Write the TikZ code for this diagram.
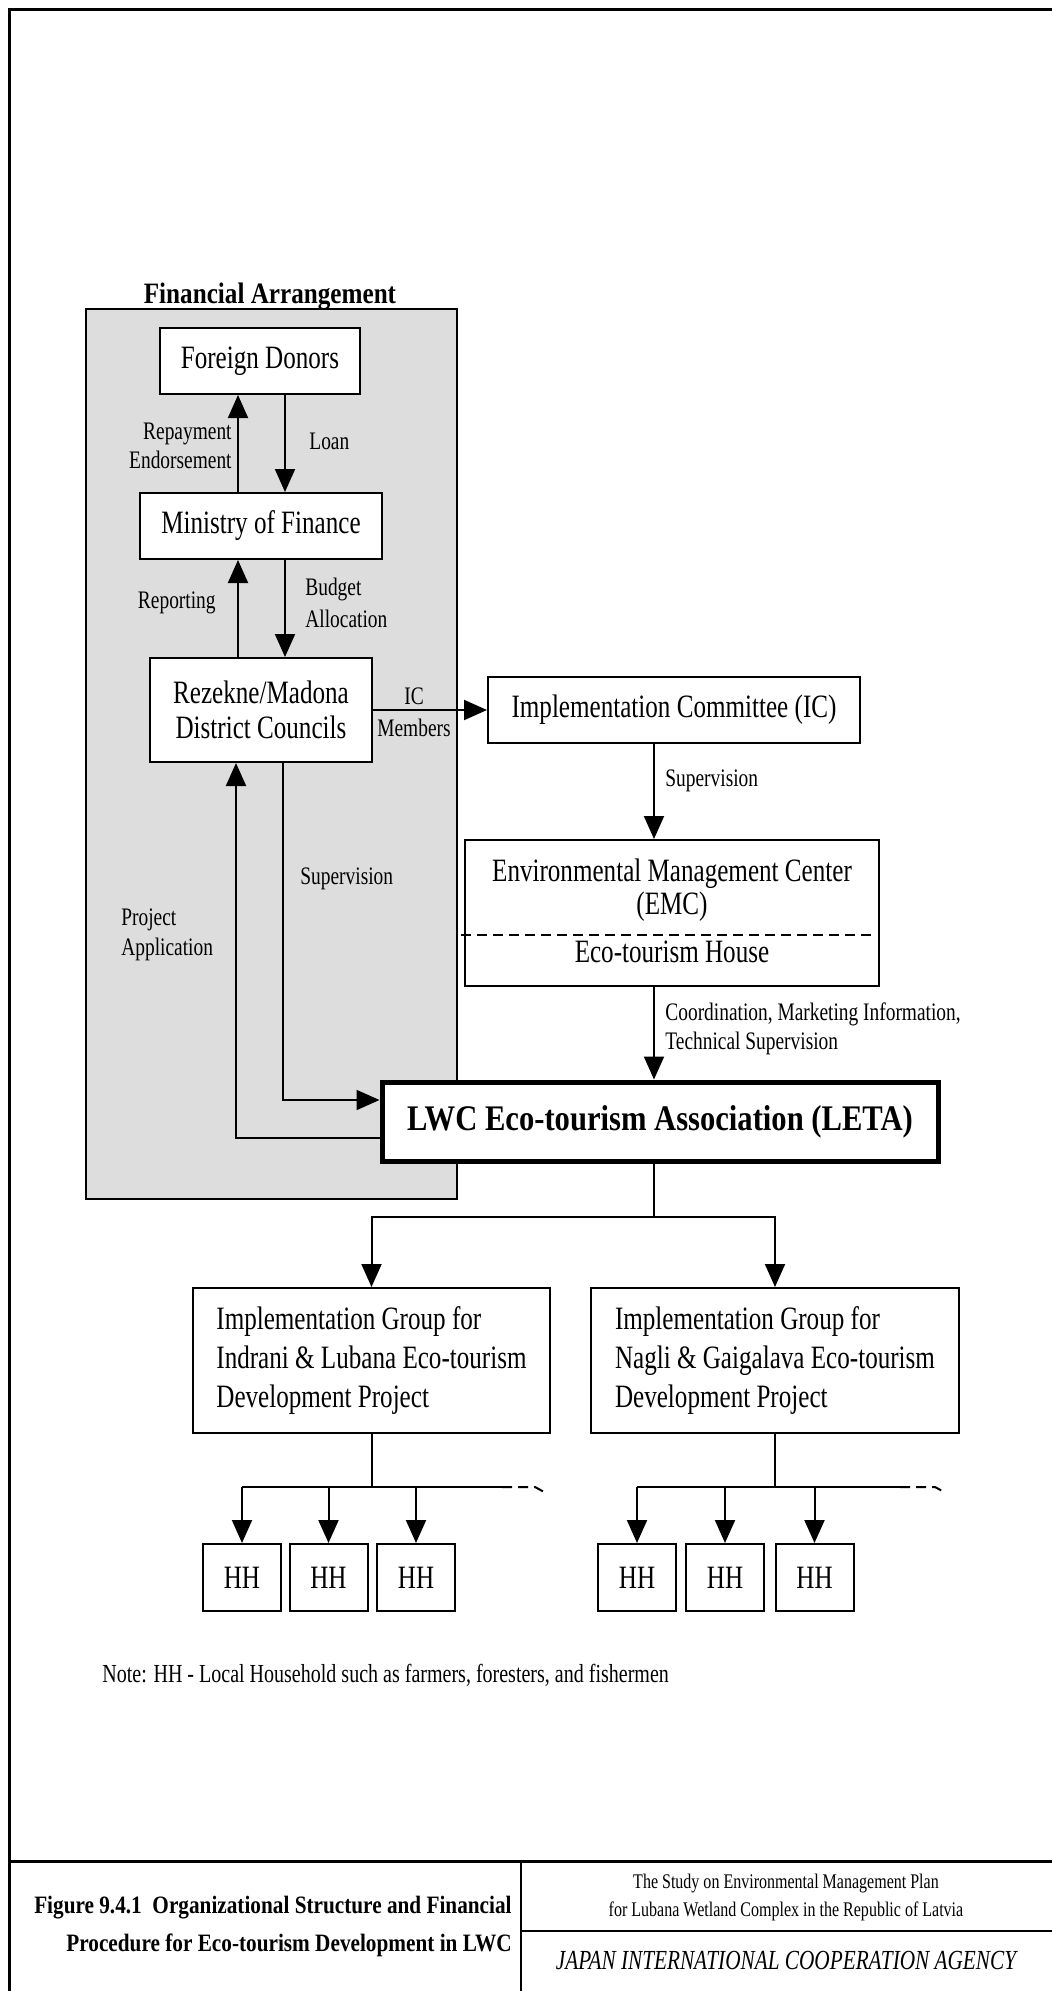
\documentclass[tikz,border=0pt]{standalone}
\usepackage{fontspec}
\setmainfont{Liberation Serif}[FakeStretch=0.77]
\newfontfamily\bfcond{Liberation Serif}[FakeStretch=0.85]
\usetikzlibrary{arrows.meta}
\definecolor{bgray}{RGB}{221,221,221}
\newcommand\fmain{\fontsize{16.3}{19}\selectfont}
\newcommand\flab{\fontsize{12.6}{14.5}\selectfont}
\newcommand\fbhead{\bfcond\bfseries\fontsize{14.8}{17}\selectfont}
\newcommand\fleta{\bfcond\bfseries\fontsize{18}{21}\selectfont}
\newcommand\ftitle{\bfcond\bfseries\fontsize{12.5}{15}\selectfont}
\tikzset{
  box/.style={draw, line width=1pt, fill=white, inner sep=0pt, font=\fmain, align=center},
  lab/.style={font=\flab, inner sep=0pt},
  arr/.style={line width=1pt, -{Triangle[width=10pt,length=11.5pt]}},
  ln/.style={line width=1pt},
}
\begin{document}
\begin{tikzpicture}[x=0.5pt,y=-0.5pt]
\useasboundingbox (0,0) rectangle (1052,1991);
% outer frame and title block
\draw[line width=1.5pt] (9,1991) -- (9,10) -- (1052,10);
\draw[line width=1.5pt] (9,1861) -- (1052,1861);
\draw[line width=1pt] (521,1861) -- (521,1991);
\draw[line width=1pt] (521,1931) -- (1052,1931);
% financial arrangement area
\draw[line width=1pt, fill=bgray] (86,309) rectangle (457,1199);
\node[font=\fbhead, inner sep=0pt] (fa) at (270,296) {Financial Arrangement};
% boxes
\node[box, minimum width=100pt, minimum height=33pt] (fd) at (260,361) {Foreign Donors};
\node[box, minimum width=121pt, minimum height=33pt] (mof) at (261,526) {Ministry of Finance};
\node[box, minimum width=111pt, minimum height=52pt, font=\fontsize{16.3}{17.5}\selectfont] (rdc) at (261,710) {Rezekne/Madona\\District Councils};
\node[box, minimum width=186pt, minimum height=33pt] (ic) at (674,710) {Implementation Committee (IC)};
\node[box, minimum width=207pt, minimum height=73pt] (emc) at (672,913) {};
\node[font=\fontsize{16.3}{16.5}\selectfont, align=center, inner sep=0pt] (emct) at (672,890) {Environmental Management Center\\(EMC)};
\node[font=\fmain, inner sep=0pt] (eth) at (672,952) {Eco-tourism House};
\draw[line width=1pt, dash pattern=on 5pt off 3pt] (461,935) -- (875,935);
\node[box, line width=2.5pt, minimum width=278pt, minimum height=39.5pt, font=\fleta] (leta) at (660,1121.5) {LWC Eco-tourism Association (LETA)};
\node[box, minimum width=178.5pt, minimum height=72.5pt, align=left, font=\fontsize{16.3}{19.3}\selectfont] (ig1) at (371.5,1360.5) {Implementation Group for\\Indrani \& Lubana Eco-tourism\\Development Project};
\node[box, minimum width=184pt, minimum height=72.5pt, align=left, font=\fontsize{16.3}{19.3}\selectfont] (ig2) at (775,1360.5) {Implementation Group for\\Nagli \& Gaigalava Eco-tourism\\Development Project};
\node[box, minimum width=39pt, minimum height=33.5pt] (h1) at (242,1577.5) {HH};
\node[box, minimum width=39pt, minimum height=33.5pt] (h2) at (328.5,1577.5) {HH};
\node[box, minimum width=39pt, minimum height=33.5pt] (h3) at (416,1577.5) {HH};
\node[box, minimum width=39pt, minimum height=33.5pt] (h4) at (637,1577.5) {HH};
\node[box, minimum width=39pt, minimum height=33.5pt] (h5) at (725,1577.5) {HH};
\node[box, minimum width=39pt, minimum height=33.5pt] (h6) at (814.5,1577.5) {HH};
% connectors in financial area
\coordinate (cL) at (238,0);
\coordinate (cR) at (285,0);
\draw[arr] (mof.north -| cL) -- (fd.south -| cL);
\draw[arr] (fd.south -| cR) -- (mof.north -| cR);
\draw[arr] (rdc.north -| cL) -- (mof.south -| cL);
\draw[arr] (mof.south -| cR) -- (rdc.north -| cR);
\draw[arr] (rdc.east) -- (ic.west);
\coordinate (cA) at (654,0);
\draw[arr] (ic.south -| cA) -- (emc.north -| cA);
\draw[arr] (emc.south -| cA) -- (leta.north -| cA);
\coordinate (sv) at (283,1100);
\draw[arr] (rdc.south -| sv) -- (sv) -- (leta.west |- sv);
\coordinate (pj) at (236,1138);
\draw[arr] (leta.west |- pj) -- (pj) -- (rdc.south -| pj);
% LETA to groups
\coordinate (br) at (654,1217);
\draw[ln] (leta.south -| cA) -- (br);
\draw[arr] (br) -| (ig1.north);
\draw[arr] (br) -| (ig2.north);
% groups to households
\coordinate (b1) at (371.5,1487);
\coordinate (e1) at (502,1487);
\draw[ln] (ig1.south) -- (b1);
\draw[ln] (h1.north |- b1) -- (e1);
\draw[line width=1pt, dash pattern=on 5pt off 3pt] (e1) -- ++(33,0) -- ++(11,6);
\foreach \h in {h1,h2,h3} \draw[arr] (\h.north |- b1) -- (\h.north);
\coordinate (b2) at (775,1487);
\coordinate (e2) at (900,1487);
\draw[ln] (ig2.south) -- (b2);
\draw[ln] (h4.north |- b2) -- (e2);
\draw[line width=1pt, dash pattern=on 5pt off 3pt] (e2) -- ++(35,0) -- ++(11,6);
\foreach \h in {h4,h5,h6} \draw[arr] (\h.north |- b2) -- (\h.north);
% labels
\node[lab, align=right, anchor=east] (rep) at (232,446) {Repayment\\Endorsement};
\node[lab, anchor=west] (loan) at (309,441) {Loan};
\node[lab, anchor=east] (repo) at (216,603) {Reporting};
\node[lab, anchor=west, align=left, font=\fontsize{12.6}{16}\selectfont] (ba) at (305,603) {Budget\\Allocation};
\node[lab] (icm1) at (414,696) {IC};
\node[lab] (icm2) at (414,728) {Members};
\node[lab, anchor=west] (sup1) at (665,781) {Supervision};
\node[lab, anchor=west, align=left] (coord) at (665,1029) {Coordination, Marketing Information,\\Technical Supervision};
\node[lab, anchor=west] (sup2) at (300,879) {Supervision};
\node[lab, anchor=west, align=left, font=\fontsize{12.6}{15}\selectfont] (papp) at (121,935) {Project\\Application};
\node[lab, anchor=west, font=\fontsize{13}{15}\selectfont] (note) at (102,1675) {Note: HH - Local Household such as farmers, foresters, and fishermen};
% title block
\node[font=\ftitle, anchor=east, inner sep=0pt] (t1) at (512,1908) {Figure 9.4.1\ \ Organizational Structure and Financial};
\node[font=\ftitle, anchor=east, inner sep=0pt] (t2) at (512,1945) {Procedure for Eco-tourism Development in LWC};
\node[font=\fontsize{10.4}{12}\selectfont, inner sep=0pt] (s1) at (786,1884) {The Study on Environmental Management Plan};
\node[font=\fontsize{10.4}{12}\selectfont, inner sep=0pt] (s2) at (786,1911) {for Lubana Wetland Complex in the Republic of Latvia};
\node[font=\itshape\fontsize{13.8}{16}\selectfont, inner sep=0pt] (jica) at (786,1960) {JAPAN INTERNATIONAL COOPERATION AGENCY};
\end{tikzpicture}
\end{document}
